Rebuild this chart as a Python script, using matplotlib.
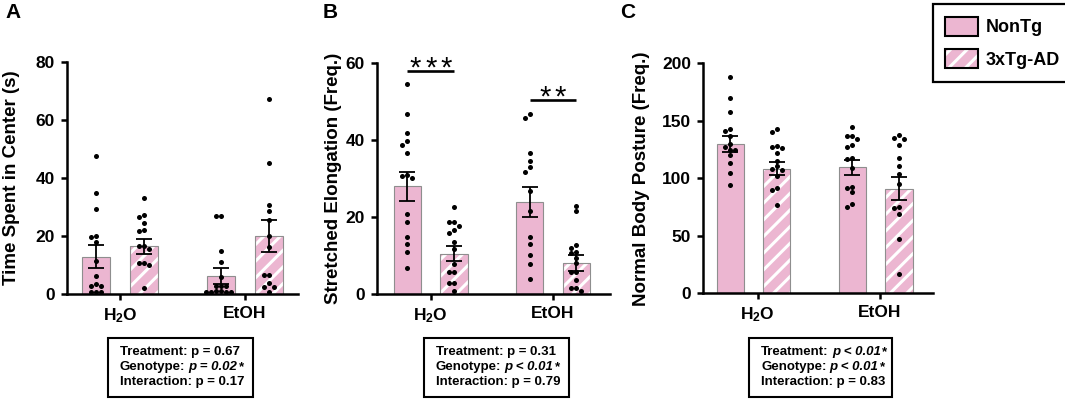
import matplotlib
matplotlib.use("Agg")
import matplotlib.pyplot as plt
import numpy as np
from matplotlib.patches import Patch, Rectangle
from matplotlib.legend_handler import HandlerTuple

plt.rcParams['font.family'] = ['Liberation Sans', 'DejaVu Sans']
plt.rcParams['font.weight'] = 'bold'
plt.rcParams['mathtext.fontset'] = 'custom'
plt.rcParams['mathtext.rm'] = 'Liberation Sans:bold'
plt.rcParams['mathtext.it'] = 'Liberation Sans:bold'
plt.rcParams['mathtext.bf'] = 'Liberation Sans:bold'
plt.rcParams['hatch.linewidth'] = 2.2

# ---- data ----
treatments = ['H$_2$O', 'EtOH']
genotypes = ['NonTg', '3xTg-AD']
# bar order in each panel: NonTg H2O, 3xTg H2O, NonTg EtOH, 3xTg EtOH

a_means = [12.8, 16.4, 6.2, 20.0]
a_sems = [4.0, 2.5, 2.8, 5.5]
a_points = [
    [47.5, 34.8, 29.4, 20.0, 19.5, 17.8, 11.5, 6.2, 3.3, 2.9, 2.9, 0.8, 0.8, 0.8],
    [33.2, 27.1, 26.4, 24.3, 22.0, 21.8, 16.5, 16.5, 15.4, 10.8, 10.8, 10.1, 2.0],
    [26.9, 26.8, 14.7, 11.0, 6.0, 2.9, 2.9, 2.7, 1.1, 0.9, 0.8, 0.8, 0.8, 0.7],
    [67.2, 45.1, 30.7, 28.6, 25.5, 20.1, 16.3, 6.7, 6.7, 3.9, 2.3, 2.3, 0.8],
]

b_means = [28.0, 10.5, 24.0, 8.1]
b_sems = [3.7, 2.0, 3.9, 2.1]
b_points = [
    [54.6, 46.7, 41.8, 39.8, 38.8, 36.8, 31.0, 30.8, 30.2, 20.7, 18.6, 14.9, 12.9, 10.8, 6.7],
    [22.7, 18.8, 18.6, 17.8, 16.7, 15.8, 13.6, 11.7, 7.8, 5.7, 5.7, 2.9, 2.9, 0.9],
    [46.8, 45.8, 36.8, 34.7, 32.9, 31.8, 26.9, 21.7, 14.9, 12.9, 10.1, 7.7, 3.9],
    [23.0, 21.7, 12.7, 11.9, 10.8, 10.6, 9.3, 8.0, 5.8, 5.8, 3.6, 1.6, 1.6, 0.9],
]
b_sig = [(3, 58.1), (2, 50.5)]   # (number of stars, line level) per treatment

c_means = [130.0, 108.5, 109.5, 91.0]
c_sems = [6.8, 6.0, 6.5, 10.0]
c_points = [
    [187.8, 170.1, 158.0, 142.9, 141.2, 137.0, 130.0, 127.0, 125.0, 124.6, 120.3, 113.0, 105.0, 93.9],
    [142.9, 140.0, 128.0, 127.0, 126.0, 121.7, 115.0, 110.7, 108.0, 107.0, 102.0, 92.0, 89.9, 76.8],
    [145.0, 136.8, 136.8, 134.0, 129.0, 127.0, 117.4, 116.5, 109.3, 92.8, 92.0, 87.8, 77.7, 74.8],
    [137.4, 135.4, 134.2, 129.0, 118.0, 110.7, 103.5, 94.8, 74.8, 73.9, 69.0, 47.0, 16.8],
]

ylabels = ['Time Spent in Center (s)', 'Stretched Elongation (Freq.)', 'Normal Body Posture (Freq.)']
panel_letters = ['A', 'B', 'C']
yticks = [[0, 20, 40, 60, 80], [0, 20, 40, 60], [0, 50, 100, 150, 200]]

stats = [
    [[('Treatment: p = 0.67', False)],
     [('Genotype:', False), ('p = 0.02', True), ('*', False)],
     [('Interaction: p = 0.17', False)]],
    [[('Treatment: p = 0.31', False)],
     [('Genotype:', False), ('p < 0.01', True), ('*', False)],
     [('Interaction: p = 0.79', False)]],
    [[('Treatment:', False), ('p < 0.01', True), ('*', False)],
     [('Genotype:', False), ('p < 0.01', True), ('*', False)],
     [('Interaction: p = 0.83', False)]],
]

# ---- layout (pixels of a 1065x400 canvas) ----
W, H = 1065, 400
pink = '#ECB6D1'
edge = '#8E8E8E'
axes_px = [(66.7, 61.7, 298, 294), (376.7, 63.3, 610, 294), (703, 63.3, 933, 293.3)]
ticks_px = [(120, 245), (430.7, 553), (757.7, 880)]
box_px = [(108, 253), (424, 569), (749, 892)]
ylab_px = [11.7, 334, 641.5]
letter_px = [5, 323, 620]
shifts = [0.0, 0.0, -0.035]
offset = 0.19
width = 0.222

fig = plt.figure(figsize=(W / 100, H / 100), dpi=100)


def swarm(ax, xc, vals, d=5.0):
    pts = ax.transData.transform(np.column_stack([np.full(len(vals), xc), vals]))
    placed = []
    xs = []
    for px, py in pts:
        for step in [0, -1, 1, -2, 2, -3, 3, -4, 4, -5, 5]:
            cx = px + step * d
            if all((cx - qx) ** 2 + (py - qy) ** 2 >= (d * 0.95) ** 2 for qx, qy in placed):
                break
        placed.append((cx, py))
        xs.append(cx)
    back = ax.transData.inverted().transform(np.column_stack([xs, pts[:, 1]]))
    return back[:, 0]


def draw_panel(p, means, sems, points):
    l, t, r, b = axes_px[p]
    ax = fig.add_axes([l / W, 1 - b / H, (r - l) / W, (b - t) / H])
    t0, t1 = ticks_px[p]
    ax.set_xlim((l - t0) / (t1 - t0), (r - t0) / (t1 - t0))
    ax.set_ylim(yticks[p][0], yticks[p][-1])
    ax.set_xticks([0, 1], treatments)
    ax.set_yticks(yticks[p])
    for s in ['top', 'right']:
        ax.spines[s].set_visible(False)
    for s in ['left', 'bottom']:
        ax.spines[s].set_linewidth(1.8)
    ax.tick_params(direction='out', length=4.5, width=1.8, labelsize=12.5, pad=4)
    ax.set_ylabel(ylabels[p], fontsize=13.5, fontweight='bold')
    ax.yaxis.set_label_coords((ylab_px[p] - l) / (r - l), 0.5)
    ax.yaxis.label.set_verticalalignment('center')

    xpos = []
    for i in range(4):
        g, k = divmod(i, 2)
        x = g + shifts[p] + (k - 0.5) * 2 * offset
        xpos.append(x)
        if k == 0:
            ax.bar(x, means[i], width, color=pink, edgecolor=edge, linewidth=0.8, zorder=2)
        else:
            ax.bar(x, means[i], width, color=pink, edgecolor='white', hatch='//',
                   linewidth=0, zorder=2)
            ax.bar(x, means[i], width, color='none', edgecolor=edge, linewidth=0.8, zorder=2.1)
        ax.errorbar(x, means[i], yerr=sems[i], color='black', capsize=5.5,
                    elinewidth=1.3, capthick=1.3, zorder=3)
        xs = swarm(ax, x, points[i])
        ax.scatter(xs, points[i], s=13, color='black', zorder=4, clip_on=False, linewidths=0)

    fig.text(letter_px[p] / W, 1 - 3 / H, panel_letters[p], fontsize=15,
             fontweight='bold', ha='left', va='top')
    return ax, xpos


def draw_stats(p, lines):
    bl, br = box_px[p]
    top, bot = 337.5, 397
    fig.add_artist(Rectangle((bl / W, 1 - bot / H), (br - bl) / W, (bot - top) / H,
                             transform=fig.transFigure, facecolor='none',
                             edgecolor='black', linewidth=1.5))
    renderer = fig.canvas.get_renderer()
    fs = 9.5
    space = 0.25 * fs * 100 / 72
    for j, pieces in enumerate(lines):
        y = 1 - (352.3 + 14.7 * j) / H
        x = bl + 12
        for n, (txt, ital) in enumerate(pieces):
            tt = fig.text(x / W, y, txt, fontsize=fs, fontweight='bold',
                          fontstyle='italic' if ital else 'normal', ha='left', va='center')
            x += tt.get_window_extent(renderer).width
            if n + 1 < len(pieces) and pieces[n + 1][1]:
                x += space
            elif n + 1 < len(pieces):
                x += 1


ax_a, _ = draw_panel(0, a_means, a_sems, a_points)
ax_b, xb = draw_panel(1, b_means, b_sems, b_points)
ax_c, _ = draw_panel(2, c_means, c_sems, c_points)

for g, (nstars, level) in enumerate(b_sig):
    x0, x1 = xb[2 * g], xb[2 * g + 1]
    ax_b.plot([x0, x1], [level, level], color='black', lw=1.9, clip_on=False,
              solid_capstyle='butt', zorder=5)
    for k in range(nstars):
        ax_b.annotate('*', xy=((x0 + x1) / 2, level),
                      xytext=((k - (nstars - 1) / 2) * 11.0, -4.0),
                      textcoords='offset points', fontsize=21, fontweight='normal',
                      ha='center', va='baseline', annotation_clip=False)

for p, lines in enumerate(stats):
    draw_stats(p, lines)

h1 = Patch(facecolor=pink, edgecolor='black', linewidth=1.5)
h2 = (Patch(facecolor=pink, edgecolor='white', hatch='//', linewidth=0),
      Patch(facecolor='none', edgecolor='black', linewidth=1.5))
leg = fig.legend([h1, h2], genotypes, handler_map={tuple: HandlerTuple(ndivide=1)},
                 loc='upper left', bbox_to_anchor=(932.7 / W, 1 - 4 / H),
                 bbox_transform=fig.transFigure, borderaxespad=0,
                 fontsize=13, handlelength=1.8, handleheight=1.25,
                 handletextpad=0.42, labelspacing=0.72, borderpad=0.7,
                 fancybox=False, framealpha=1)
leg.get_frame().set_edgecolor('black')
leg.get_frame().set_linewidth(1.6)
for t in leg.get_texts():
    t.set_fontweight('bold')

fig.savefig('out.png', dpi=100)
